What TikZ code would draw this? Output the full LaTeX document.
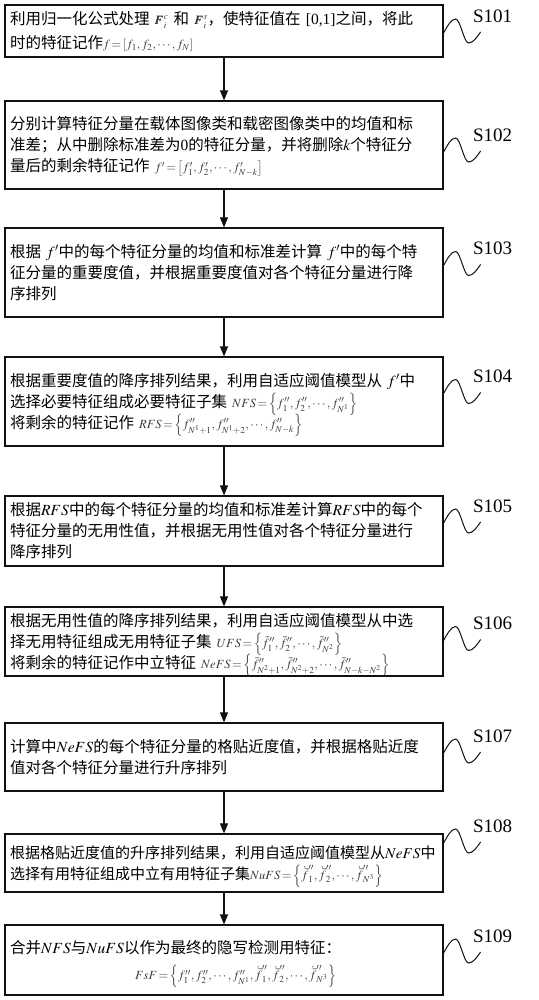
\documentclass[tikz,border=0pt]{standalone}
\usepackage{mathptmx}
\usepackage{bm}
\usepackage[no-math]{fontspec}
\setmainfont{Noto Sans CJK SC}
\newfontfamily\latin{Liberation Serif}
\usepackage{xcolor}
\usepackage{tikz}
\usetikzlibrary{arrows.meta,positioning}
\definecolor{fsdark}{HTML}{111111}
\definecolor{fsformula}{HTML}{3A3A3A}
\newcommand{\fm}[1]{{\color{fsformula}\fontsize{12.5}{14}\selectfont$\smash{#1}$}}
\tikzset{
  stepbox/.style={draw=fsdark,line width=1.2pt,align=left,text width=428pt,
                  inner xsep=5pt,inner ysep=3pt,font=\fontsize{15.5}{21}\selectfont},
  flow/.style={-{Triangle[length=10pt,width=8pt]},line width=1.1pt,draw=fsdark},
  wave/.style={line width=1pt,draw=fsdark},
  steplabel/.style={font=\latin\fontsize{19}{19}\selectfont,inner sep=0pt}
}

\begin{document}
\begin{tikzpicture}[x=1pt,y=-1pt]
    \useasboundingbox (0,0) rectangle (538,1000);

    \node[stepbox,minimum height=52pt] (b1) at (224,31) {利用归一化公式处理 \fm{\bm{F}_i^{c}} 和 \fm{\bm{F}_i^{s}}，使特征值在 {\latin[0,1]}之间，将此\\[3pt]
      时的特征记作\fm{f\!=\![f_1,f_2,\cdots,f_N]}};
    \node[stepbox,minimum height=88pt] (b2) at (224,145) {分别计算特征分量在载体图像类和载密图像类中的均值和标\\
      准差；从中删除标准差为{\latin 0}的特征分量，并将删除$k$个特征分\\
      量后的剩余特征记作 \fm{f'\!=\!\left[f_1',f_2',\cdots,f_{N-k}'\right]}};
    \node[stepbox,minimum height=89pt] (b3) at (224,272.5) {根据 $f'$中的每个特征分量的均值和标准差计算 $f'$中的每个特\\
      征分量的重要度值，并根据重要度值对各个特征分量进行降\\
      序排列};
    \node[stepbox,minimum height=89pt] (b4) at (224,401.5) {根据重要度值的降序排列结果，利用自适应阈值模型从 $f'$中\\
      选择必要特征组成必要特征子集 \fm{NFS\!=\!\left\{f_1'',f_2'',\cdots,f_{N^1}''\right\}}\\
      将剩余的特征记作 \fm{RFS\!=\!\left\{f_{N^1+1}'',f_{N^1+2}'',\cdots,f_{N-k}''\right\}}};
    \node[stepbox,minimum height=70pt] (b5) at (224,531) {根据$RFS$中的每个特征分量的均值和标准差计算$RFS$中的每个\\
      特征分量的无用性值，并根据无用性值对各个特征分量进行\\
      降序排列};
    \node[stepbox,minimum height=69pt] (b6) at (224,641.5) {根据无用性值的降序排列结果，利用自适应阈值模型从中选\\
      择无用特征组成无用特征子集 \fm{UFS\!=\!\left\{\bar f_1'',\bar f_2'',\cdots,\bar f_{N^2}''\right\}}\\
      将剩余的特征记作中立特征 \fm{NeFS\!=\!\left\{\bar f_{N^2+1}'',\bar f_{N^2+2}'',\cdots,\bar f_{N-k-N^2}''\right\}}};
    \node[stepbox,minimum height=68pt] (b7) at (224,757) {计算中$NeFS$的每个特征分量的格贴近度值，并根据格贴近度\\
      值对各个特征分量进行升序排列};
    \node[stepbox,minimum height=58pt,font=\fontsize{15}{21}\selectfont] (b8) at (224,863) {根据格贴近度值的升序排列结果，利用自适应阈值模型从$NeFS$中\\
      选择有用特征组成中立有用特征子集\fm{NuFS\!=\!\left\{\dot{\bar f}_1'',\dot{\bar f}_2'',\cdots,\dot{\bar f}_{N^3}''\right\}}};
    \node[stepbox,minimum height=70pt] (b9) at (224,960) {合并$NFS$与$NuFS$以作为最终的隐写检测用特征：\\[5pt]
      \hspace*{125pt}\fm{FsF\!=\!\left\{f_1'',f_2'',\cdots,f_{N^1}'',\dot{\bar f}_1'',\dot{\bar f}_2'',\cdots,\dot{\bar f}_{N^3}''\right\}}};

    \draw[flow] (b1) -- (b2);
    \draw[flow] (b2) -- (b3);
    \draw[flow] (b3) -- (b4);
    \draw[flow] (b4) -- (b5);
    \draw[flow] (b5) -- (b6);
    \draw[flow] (b6) -- (b7);
    \draw[flow] (b7) -- (b8);
    \draw[flow] (b8) -- (b9);

    \draw[wave] ([yshift=-2pt]b1.east) sin ++(12,-14) cos ++(6.5,12) sin ++(6.5,12) cos ++(12,-11) node[steplabel,above right=9pt and -8pt] (l1) {S101};
    \draw[wave] ([yshift=-7pt]b2.east) sin ++(12,-14) cos ++(6.5,12) sin ++(6.5,12) cos ++(12,-11) node[steplabel,above right=9pt and -8pt] (l2) {S102};
    \draw[wave] ([yshift=7pt]b3.east) sin ++(12,-14) cos ++(6.5,12) sin ++(6.5,12) cos ++(12,-11) node[steplabel,above right=9pt and -8pt] (l3) {S103};
    \draw[wave] ([yshift=8pt]b4.east) sin ++(12,-14) cos ++(6.5,12) sin ++(6.5,12) cos ++(12,-11) node[steplabel,above right=9pt and -8pt] (l4) {S104};
    \draw[wave] ([yshift=8pt]b5.east) sin ++(12,-14) cos ++(6.5,12) sin ++(6.5,12) cos ++(12,-11) node[steplabel,above right=9pt and -8pt] (l5) {S105};
    \draw[wave] ([yshift=1pt]b6.east) sin ++(12,-14) cos ++(6.5,12) sin ++(6.5,12) cos ++(12,-11) node[steplabel,above right=9pt and -8pt] (l6) {S106};
    \draw[wave] ([yshift=4pt]b7.east) sin ++(12,-14) cos ++(6.5,12) sin ++(6.5,12) cos ++(12,-11) node[steplabel,above right=9pt and -8pt] (l7) {S107};
    \draw[wave] ([yshift=20pt]b8.east) sin ++(12,-14) cos ++(6.5,12) sin ++(6.5,12) cos ++(12,-11) node[steplabel,above right=9pt and -8pt] (l8) {S108};
    \draw[wave] ([yshift=7pt]b9.east) sin ++(12,-14) cos ++(6.5,12) sin ++(6.5,12) cos ++(12,-11) node[steplabel,above right=9pt and -8pt] (l9) {S109};
  \end{tikzpicture}
\end{document}
